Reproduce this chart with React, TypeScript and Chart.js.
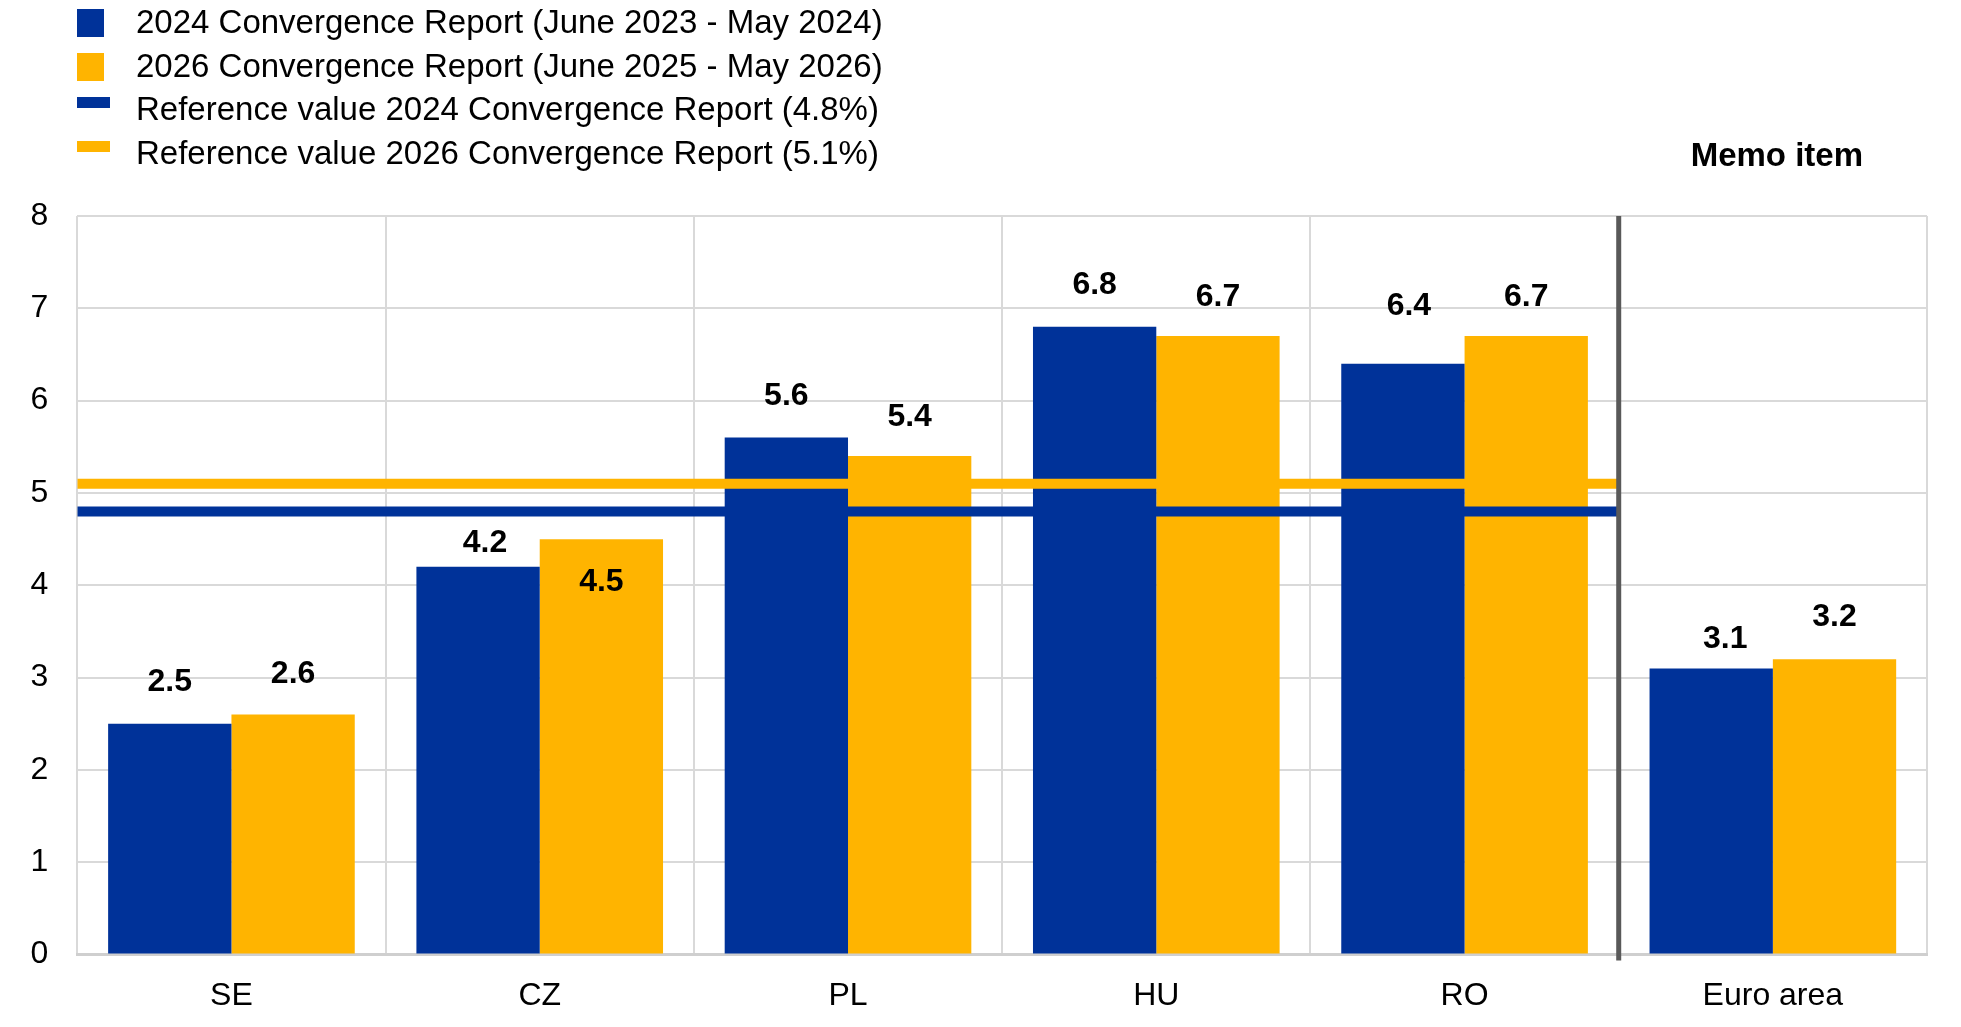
import React, { useEffect, useRef } from "react";
import { Chart, registerables } from "chart.js";

Chart.register(...registerables);

const categories = ["SE", "CZ", "PL", "HU", "RO", "Euro area"];
const report2024 = [2.5, 4.2, 5.6, 6.8, 6.4, 3.1];
const report2026 = [2.6, 4.5, 5.4, 6.7, 6.7, 3.2];
const refValue2024 = 4.8;
const refValue2026 = 5.1;
// reference lines span the five countries (slots 0..5); the memo item (Euro area) sits after
const refStart = 0;
const refEnd = 5;
const yMin = 0;
const yMax = 8;
const legendLabels = [
  "2024 Convergence Report (June 2023 - May 2024)",
  "2026 Convergence Report (June 2025 - May 2026)",
  "Reference value 2024 Convergence Report (4.8%)",
  "Reference value 2026 Convergence Report (5.1%)",
];
const memoLabel = "Memo item";

const BLUE = "#003299";
const ORANGE = "#FFB400";
const GRID = "#d9d9d9";
const FONT = "'Liberation Sans', Arial, Helvetica, sans-serif";

// label placement (px above bar top; negative = inside the bar) and horizontal nudge
const labelShift = [
  [42, 24, 41, 42, 58, 29],
  [40, -43, 39, 39, 39, 42],
];
const labelNudgeX = [
  [0, 7, 0, 0, 6, 14],
  [0, 0, 0, 0, 0, 0],
];

// each category occupies one unit on the x scale; bars sit at the slot centres
const slotCentre = (i: number) => i + 0.5;

const overlayPlugin = {
  id: "overlay",
  afterDatasetsDraw(chart: any) {
    const ctx = chart.ctx;
    const area = chart.chartArea;
    const x = chart.scales.x;
    const sx = x.getPixelForValue(refEnd);
    ctx.save();
    ctx.strokeStyle = "#595959";
    ctx.lineWidth = 5;
    ctx.beginPath();
    ctx.moveTo(sx, area.top);
    ctx.lineTo(sx, area.bottom + 6);
    ctx.stroke();

    ctx.fillStyle = "#000";
    ctx.font = `bold 32px ${FONT}`;
    ctx.textAlign = "center";
    ctx.textBaseline = "middle";
    [2, 3].forEach((dsIndex, k) => {
      const meta = chart.getDatasetMeta(dsIndex);
      const values = dsIndex === 2 ? report2024 : report2026;
      meta.data.forEach((bar: any, i: number) => {
        ctx.fillText(values[i].toFixed(1), bar.x + labelNudgeX[k][i], bar.y - labelShift[k][i]);
      });
    });

    const textX = 136;
    const rows = [24, 67.5, 111, 155];
    ctx.textAlign = "left";
    ctx.font = `33px ${FONT}`;
    ctx.fillStyle = BLUE;
    ctx.fillRect(77, 9, 27, 28);
    ctx.fillStyle = ORANGE;
    ctx.fillRect(77, 53, 27, 28);
    ctx.fillStyle = BLUE;
    ctx.fillRect(77, 97, 33, 11);
    ctx.fillStyle = ORANGE;
    ctx.fillRect(77, 141, 33, 11);
    ctx.fillStyle = "#000";
    legendLabels.forEach((t, i) => ctx.fillText(t, textX, rows[i]));

    ctx.font = `bold 33px ${FONT}`;
    ctx.textAlign = "center";
    const mx = (x.getPixelForValue(refEnd) + x.getPixelForValue(categories.length)) / 2 + 4;
    ctx.fillText(memoLabel, mx, 156.5);
    ctx.restore();
  },
};

export default function App() {
  const ref = useRef<HTMLCanvasElement | null>(null);
  useEffect(() => {
    const prevMargin = document.body.style.margin;
    document.body.style.margin = "0";
    Chart.defaults.font.family = FONT;
    const refLine = (v: number, color: string) =>
      ({
        type: "line",
        data: [
          { x: refStart, y: v },
          { x: refEnd, y: v },
        ],
        borderColor: color,
        borderWidth: 10,
        pointRadius: 0,
        borderCapStyle: "butt",
        order: 0,
      } as any);
    const chart = new Chart(ref.current as HTMLCanvasElement, {
      type: "bar",
      data: {
        datasets: [
          { ...refLine(refValue2024, BLUE), label: legendLabels[2] },
          { ...refLine(refValue2026, ORANGE), label: legendLabels[3] },
          {
            label: legendLabels[0],
            data: report2024.map((y, i) => ({ x: slotCentre(i), y })),
            backgroundColor: BLUE,
            categoryPercentage: 0.8,
            barPercentage: 1.0,
            order: 1,
          } as any,
          {
            label: legendLabels[1],
            data: report2026.map((y, i) => ({ x: slotCentre(i), y })),
            backgroundColor: ORANGE,
            categoryPercentage: 0.8,
            barPercentage: 1.0,
            order: 1,
          } as any,
        ],
      },
      options: {
        animation: false,
        responsive: false,
        maintainAspectRatio: false,
        layout: { padding: { top: 216, left: 0, right: 34, bottom: 0 }, autoPadding: false },
        plugins: {
          legend: { display: false },
          tooltip: { enabled: false },
        },
        scales: {
          x: {
            type: "linear",
            min: 0,
            max: categories.length,
            offset: false,
            afterBuildTicks: (s: any) => {
              s.ticks = categories.map((_, i) => ({ value: slotCentre(i) }));
            },
            grid: { offset: true, color: GRID, lineWidth: 2, drawTicks: false },
            border: { color: "#cfcfcf", width: 3 },
            ticks: {
              font: { size: 32 },
              color: "#000",
              padding: 22,
              maxRotation: 0,
              autoSkip: false,
              callback: (v: number) => categories[Math.floor(v)],
            },
            afterFit: (s: any) => {
              s.height = 72.4;
            },
          },
          y: {
            min: yMin,
            max: yMax,
            ticks: { stepSize: 1, font: { size: 32 }, color: "#000", padding: 29 },
            grid: { color: GRID, lineWidth: 2, drawTicks: false },
            border: { display: false },
            afterFit: (s: any) => {
              s.width = 77.3;
            },
          },
        },
      } as any,
      plugins: [overlayPlugin],
    });
    return () => {
      chart.destroy();
      document.body.style.margin = prevMargin;
    };
  }, []);
  return (
    <div style={{ position: "fixed", left: 0, top: 0, width: 1961, height: 1027, background: "#fff" }}>
      <canvas ref={ref} width={1961} height={1027} style={{ width: 1961, height: 1027 }} />
    </div>
  );
}
